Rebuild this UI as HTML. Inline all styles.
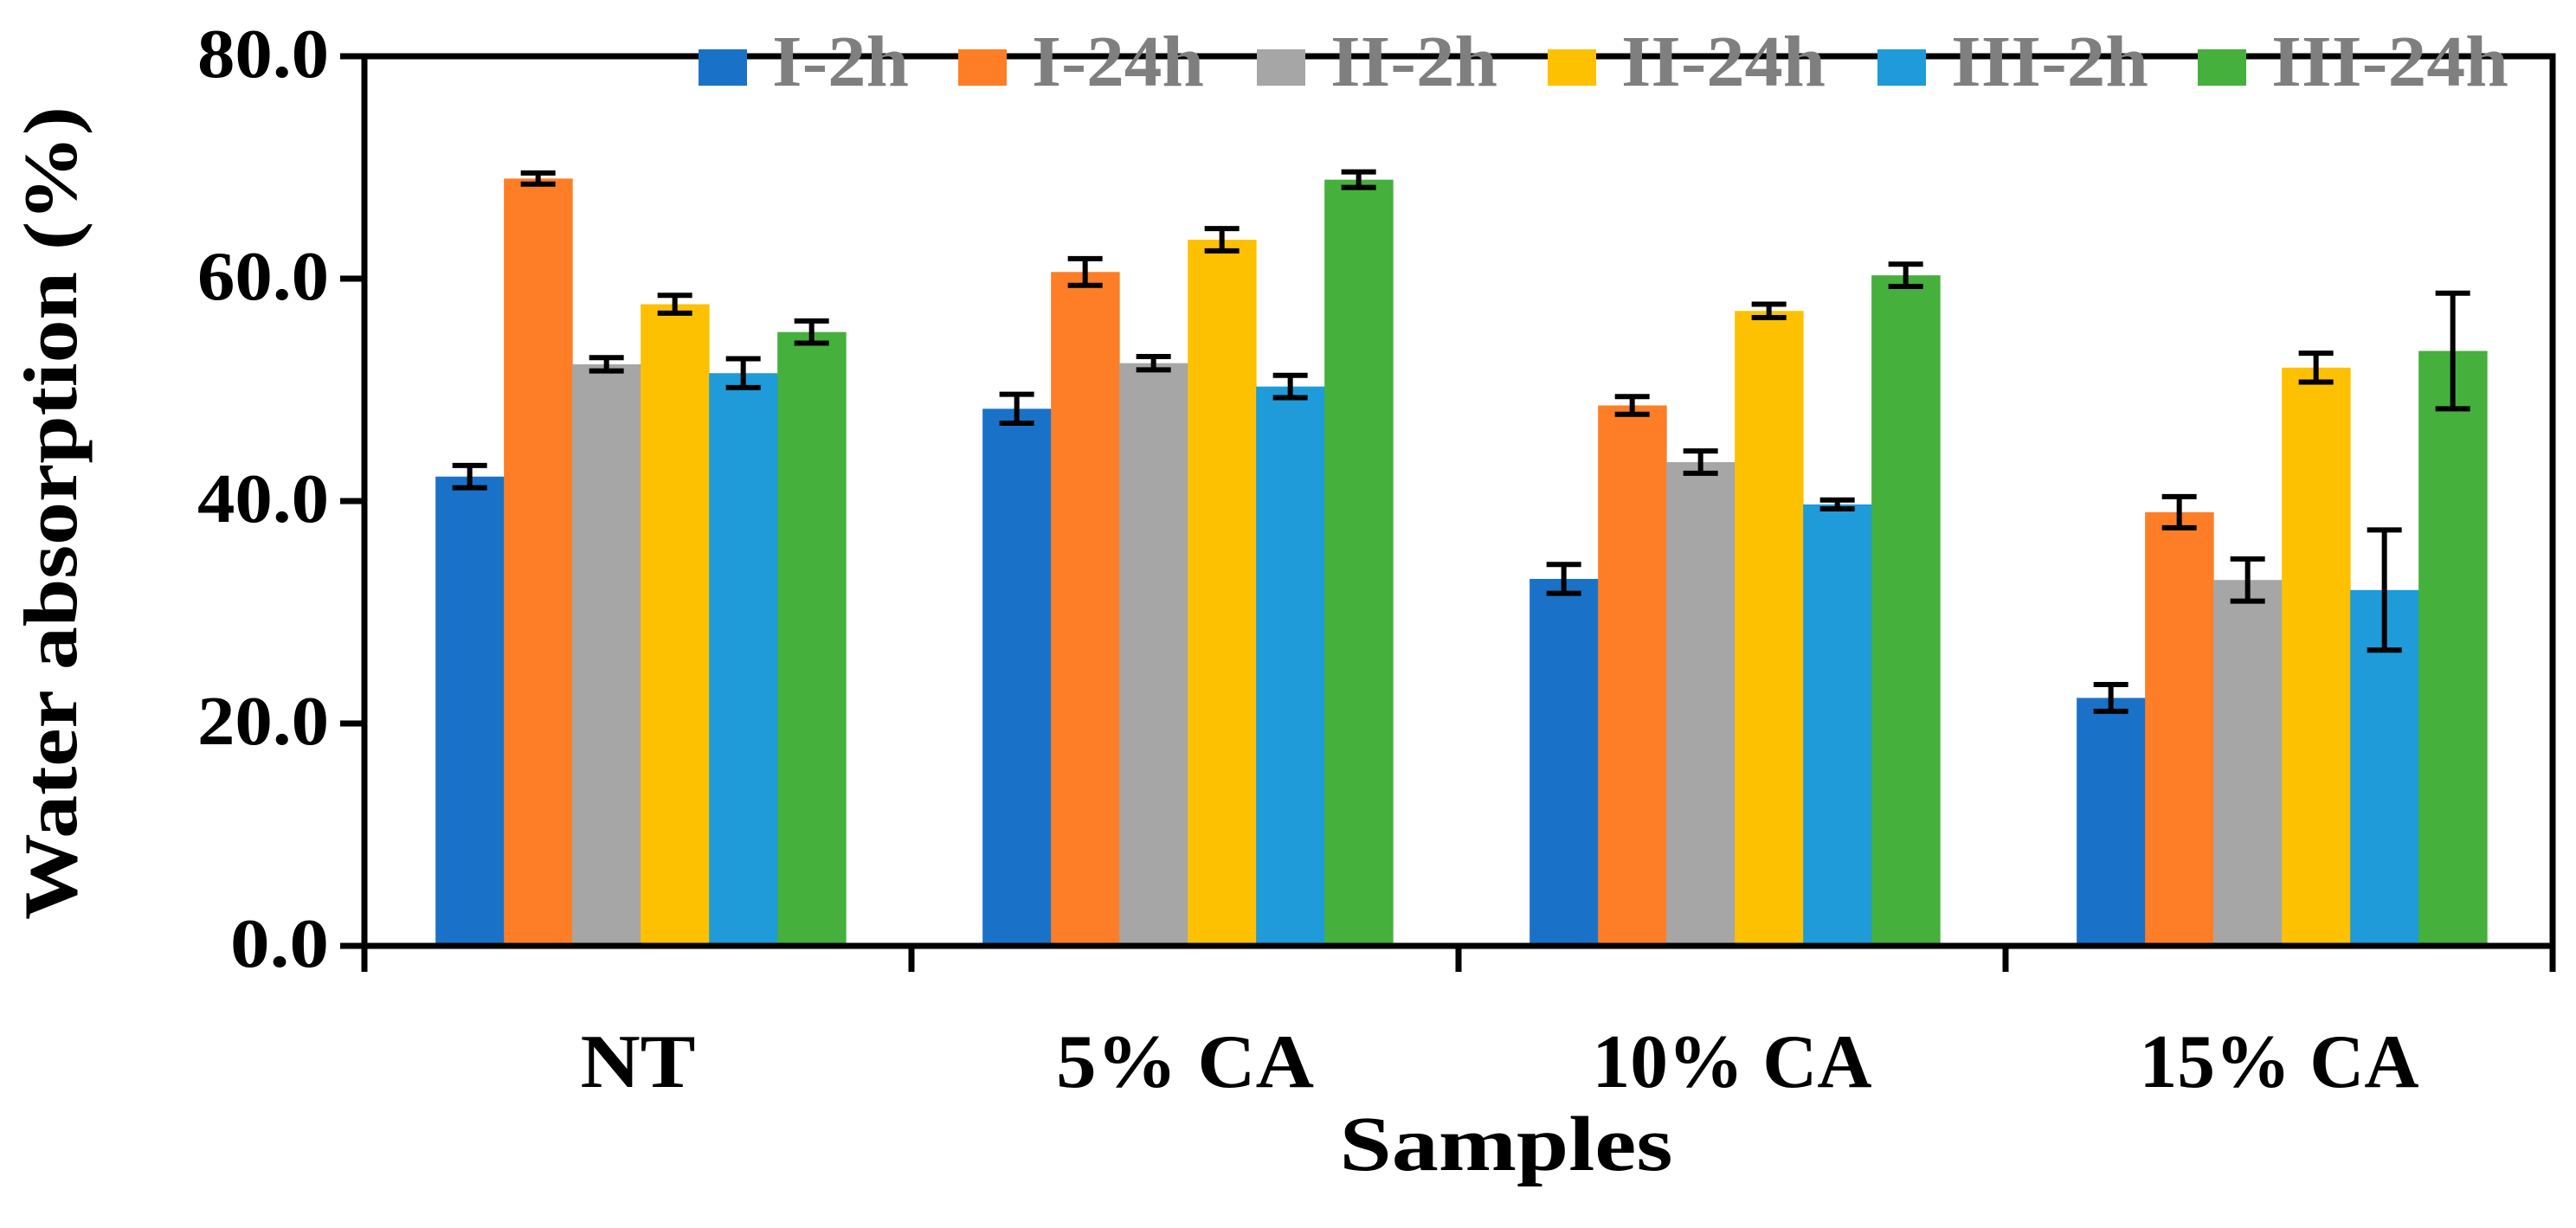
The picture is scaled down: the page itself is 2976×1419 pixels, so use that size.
<!DOCTYPE html>
<html><head><meta charset="utf-8"><style>
html,body{margin:0;padding:0;background:#fff;}
svg{display:block;font-family:"Liberation Serif",serif;font-weight:bold;}
</style></head><body>
<svg id="chart" width="2976" height="1419" viewBox="0 0 2976 1419" xmlns="http://www.w3.org/2000/svg">
<g id="bars"></g>
<g id="errs"></g>
<g id="axes"></g>
<g id="legend"></g>
<text x="0" y="0" font-size="88" text-anchor="middle" transform="translate(88,593) rotate(-90)" textLength="940" lengthAdjust="spacingAndGlyphs">Water absorption (%)</text>
<text x="1740" y="1352" font-size="90" text-anchor="middle" textLength="385" lengthAdjust="spacingAndGlyphs">Samples</text>
</svg>
<script>
const categories = ["NT", "5% CA", "10% CA", "15% CA"];
const seriesNames = ["I-2h", "I-24h", "II-2h", "II-24h", "III-2h", "III-24h"];
const seriesColors = ["#1a72c8", "#fd7e26", "#a6a6a6", "#fec102", "#1e9bd8", "#45b03c"];
const valuesI2 = [42.2, 48.3, 33.0, 22.3];
const valuesI24 = [69.0, 60.6, 48.6, 39.0];
const valuesII2 = [52.3, 52.4, 43.5, 32.9];
const valuesII24 = [57.7, 63.5, 57.1, 52.0];
const valuesIII2 = [51.5, 50.3, 39.7, 32.0];
const valuesIII24 = [55.2, 68.9, 60.3, 53.5];
const errI2 = [1.0, 1.3, 1.3, 1.2];
const errI24 = [0.5, 1.2, 0.8, 1.4];
const errII2 = [0.6, 0.6, 1.0, 1.9];
const errII24 = [0.8, 1.0, 0.6, 1.3];
const errIII2 = [1.3, 1.0, 0.4, 5.4];
const errIII24 = [1.0, 0.7, 1.0, 5.2];
const yTicks = [0, 20, 40, 60, 80];
const yTickLabels = ["0.0", "20.0", "40.0", "60.0", "80.0"];

const series = [valuesI2, valuesI24, valuesII2, valuesII24, valuesIII2, valuesIII24];
const errs = [errI2, errI24, errII2, errII24, errIII2, errIII24];
const NS = "http://www.w3.org/2000/svg";
const X0 = 421, X1 = 2949, Y0 = 1093, Y1 = 65, YMAX = 80;
const groupW = (X1 - X0) / categories.length;
const barW = groupW * 0.125;
const padL = groupW * 0.13;
function yScale(v) { return Y0 - (v / YMAX) * (Y0 - Y1); }
function xBar(ci, si) { return X0 + ci * groupW + padL + si * barW; }
function mk(tag, attrs, parent) {
  const e = document.createElementNS(NS, tag);
  for (const k in attrs) e.setAttribute(k, attrs[k]);
  parent.appendChild(e);
  return e;
}
const gb = document.getElementById('bars'), ge = document.getElementById('errs'), ga = document.getElementById('axes'), gl = document.getElementById('legend');
series.forEach((vals, si) => {
  vals.forEach((v, ci) => {
    const x = xBar(ci, si), y = yScale(v);
    const r = mk('rect', {x: x, y: y, width: barW + 0.5, height: Y0 - y, fill: seriesColors[si]}, gb);
    
    
    const cx = x + barW / 2, e = errs[si][ci];
    const yt = yScale(v + e), yb = yScale(v - e);
    const g = mk('g', {stroke: '#000', 'stroke-width': 6}, ge);
    
    
    mk('line', {x1: cx, x2: cx, y1: yt, y2: yb}, g);
    mk('line', {x1: cx - 20, x2: cx + 20, y1: yt, y2: yt}, g);
    mk('line', {x1: cx - 20, x2: cx + 20, y1: yb, y2: yb}, g);
  });
});
const frame = mk('rect', {x: X0, y: Y1, width: X1 - X0, height: Y0 - Y1, fill: 'none', stroke: '#000', 'stroke-width': 7}, ga);


yTicks.forEach((t, i) => {
  const y = yScale(t);
  const l = mk('line', {x1: X0 - 28, x2: X0, y1: y, y2: y, stroke: '#000', 'stroke-width': 7}, ga);
  
  
  const tx = mk('text', {x: 380, y: y + 24, 'font-size': 80, 'text-anchor': 'end', fill: '#000', textLength: t === 0 ? 114 : 152, lengthAdjust: 'spacingAndGlyphs'}, ga);
  
  
  tx.textContent = yTickLabels[i];
});
for (let i = 0; i <= categories.length; i++) {
  const x = X0 + i * groupW;
  const l = mk('line', {x1: x, x2: x, y1: Y0, y2: Y0 + 30, stroke: '#000', 'stroke-width': 7}, ga);
  
  
}
const catW = [133, 298, 323, 323];
categories.forEach((c, ci) => {
  const t = mk('text', {x: X0 + (ci + 0.5) * groupW, y: 1256, 'font-size': 88, 'text-anchor': 'middle', fill: '#000', textLength: catW[ci], lengthAdjust: 'spacingAndGlyphs'}, ga);
  
  
  t.textContent = c;
});
const legX = [807, 1107, 1452, 1788, 2169, 2539];
const legW = [158, 199, 193, 236, 228, 274];
seriesNames.forEach((n, si) => {
  const g = mk('g', {}, gl);
  
  
  mk('rect', {x: legX[si], y: 57, width: 56, height: 42, fill: seriesColors[si]}, g);
  const t = mk('text', {x: legX[si] + 85, y: 99, 'font-size': 84, fill: '#7f7f7f', textLength: legW[si], lengthAdjust: 'spacingAndGlyphs'}, g);
  t.textContent = n;
});
</script>
</body></html>
